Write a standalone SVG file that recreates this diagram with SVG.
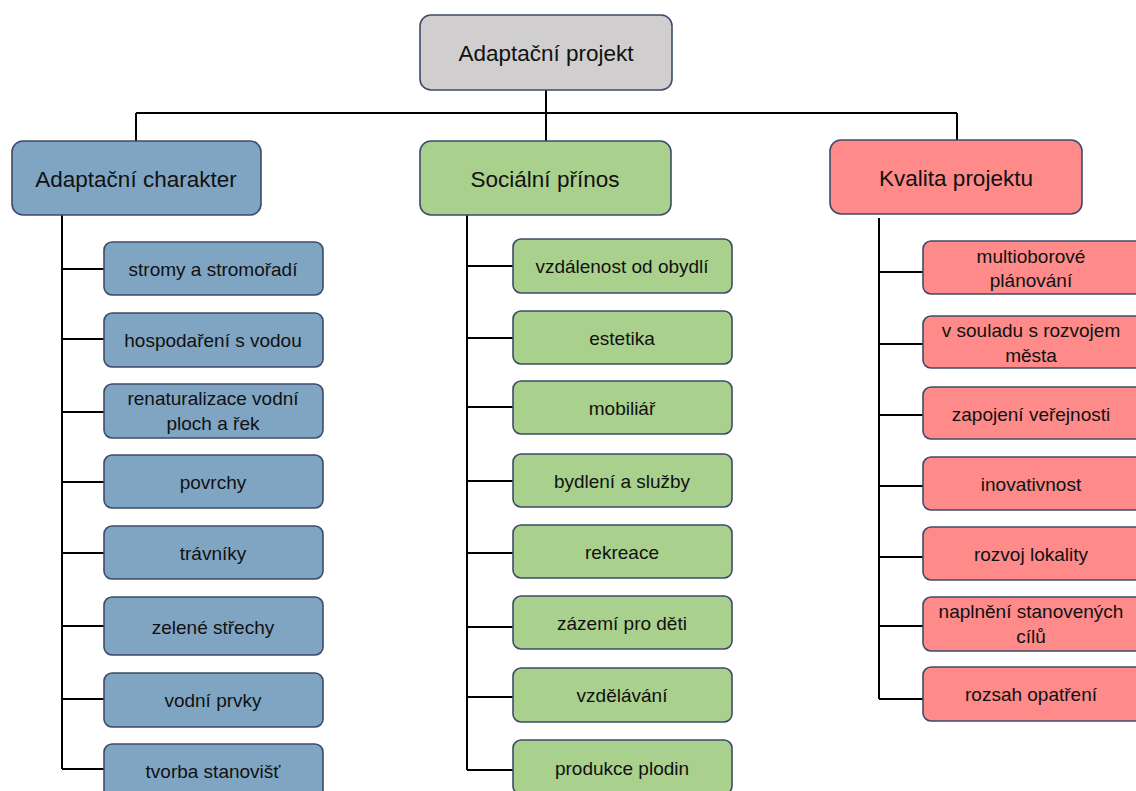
<svg xmlns="http://www.w3.org/2000/svg" width="1136" height="791" viewBox="0 0 1136 791">
<style>
rect{stroke:#3d4b6a;stroke-width:1.6}
.g{fill:#d0cecf}
.b{fill:#7fa5c2}
.gr{fill:#a9d08d}
.r{fill:#fe8a8a}
text{font-family:"Liberation Sans",Arial,sans-serif;fill:#111;text-anchor:middle;dominant-baseline:central}
.p{font-size:22.5px}
.c{font-size:19px}
.ln{stroke:#000;stroke-width:2;fill:none}
</style>
<rect width="1136" height="791" fill="#fff" style="stroke:none"/>
<g id="connectors">
<path class="ln" d="M546 90V141M136 113H957M136 113V141M957 113V140"/>
<path class="ln" d="M62 215V769M62 269H104M62 339H104M62 412H104M62 482H104M62 553H104M62 626H104M62 699H104M62 769H104"/>
<path class="ln" d="M467 215V770M467 266H513M467 338H513M467 407H513M467 481H513M467 553H513M467 627H513M467 697H513M467 770H513"/>
<path class="ln" d="M879 218V699M879 272H923M879 344H923M879 415H923M879 486H923M879 557H923M879 626H923M879 699H923"/>
</g>
<g id="root"><rect class="g" x="420" y="15" width="252" height="75" rx="11"/><text class="p" x="546" y="53">Adaptační projekt</text></g>
<g id="adaptacni-charakter"><rect class="b" x="12" y="141" width="249" height="74" rx="11"/><text class="p" x="136" y="179">Adaptační charakter</text></g>
<g id="socialni-prinos"><rect class="gr" x="420" y="141" width="251" height="74" rx="11"/><text class="p" x="545" y="179">Sociální přínos</text></g>
<g id="kvalita-projektu"><rect class="r" x="830" y="140" width="252" height="74" rx="11"/><text class="p" x="956" y="178">Kvalita projektu</text></g>

<g id="a1"><rect class="b" x="104" y="242" width="219" height="53" rx="8"/><text class="c" x="213" y="269">stromy a stromořadí</text></g>
<g id="a2"><rect class="b" x="104" y="313" width="219" height="54" rx="8"/><text class="c" x="213" y="340">hospodaření s vodou</text></g>
<g id="a3"><rect class="b" x="104" y="384" width="219" height="54" rx="8"/><text class="c" x="213" y="398">renaturalizace vodní</text><text class="c" x="213" y="423">ploch a řek</text></g>
<g id="a4"><rect class="b" x="104" y="455" width="219" height="53" rx="8"/><text class="c" x="213" y="482">povrchy</text></g>
<g id="a5"><rect class="b" x="104" y="526" width="219" height="53" rx="8"/><text class="c" x="213" y="553">trávníky</text></g>
<g id="a6"><rect class="b" x="104" y="597" width="219" height="58" rx="8"/><text class="c" x="213" y="627">zelené střechy</text></g>
<g id="a7"><rect class="b" x="104" y="673" width="219" height="54" rx="8"/><text class="c" x="213" y="700">vodní prvky</text></g>
<g id="a8"><rect class="b" x="104" y="744" width="219" height="54" rx="8"/><text class="c" x="213" y="771">tvorba stanovišť</text></g>

<g id="s1"><rect class="gr" x="513" y="239" width="219" height="54" rx="8"/><text class="c" x="622" y="266">vzdálenost od obydlí</text></g>
<g id="s2"><rect class="gr" x="513" y="311" width="219" height="53" rx="8"/><text class="c" x="622" y="338">estetika</text></g>
<g id="s3"><rect class="gr" x="513" y="381" width="219" height="53" rx="8"/><text class="c" x="622" y="408">mobiliář</text></g>
<g id="s4"><rect class="gr" x="513" y="454" width="219" height="53" rx="8"/><text class="c" x="622" y="481">bydlení a služby</text></g>
<g id="s5"><rect class="gr" x="513" y="525" width="219" height="53" rx="8"/><text class="c" x="622" y="552">rekreace</text></g>
<g id="s6"><rect class="gr" x="513" y="596" width="219" height="53" rx="8"/><text class="c" x="622" y="623">zázemí pro děti</text></g>
<g id="s7"><rect class="gr" x="513" y="668" width="219" height="54" rx="8"/><text class="c" x="622" y="695">vzdělávání</text></g>
<g id="s8"><rect class="gr" x="513" y="740" width="219" height="54" rx="8"/><text class="c" x="622" y="768">produkce plodin</text></g>

<g id="k1"><rect class="r" x="923" y="241" width="222" height="53" rx="8"/><text class="c" x="1031" y="256">multioborové</text><text class="c" x="1031" y="280">plánování</text></g>
<g id="k2"><rect class="r" x="923" y="316" width="222" height="52" rx="8"/><text class="c" x="1031" y="330">v souladu s rozvojem</text><text class="c" x="1031" y="355">města</text></g>
<g id="k3"><rect class="r" x="923" y="387" width="222" height="52" rx="8"/><text class="c" x="1031" y="414">zapojení veřejnosti</text></g>
<g id="k4"><rect class="r" x="923" y="457" width="222" height="53" rx="8"/><text class="c" x="1031" y="484">inovativnost</text></g>
<g id="k5"><rect class="r" x="923" y="527" width="222" height="53" rx="8"/><text class="c" x="1031" y="554">rozvoj lokality</text></g>
<g id="k6"><rect class="r" x="923" y="597" width="222" height="54" rx="8"/><text class="c" x="1031" y="611">naplnění stanovených</text><text class="c" x="1031" y="636">cílů</text></g>
<g id="k7"><rect class="r" x="923" y="667" width="222" height="54" rx="8"/><text class="c" x="1031" y="694">rozsah opatření</text></g>
</svg>
